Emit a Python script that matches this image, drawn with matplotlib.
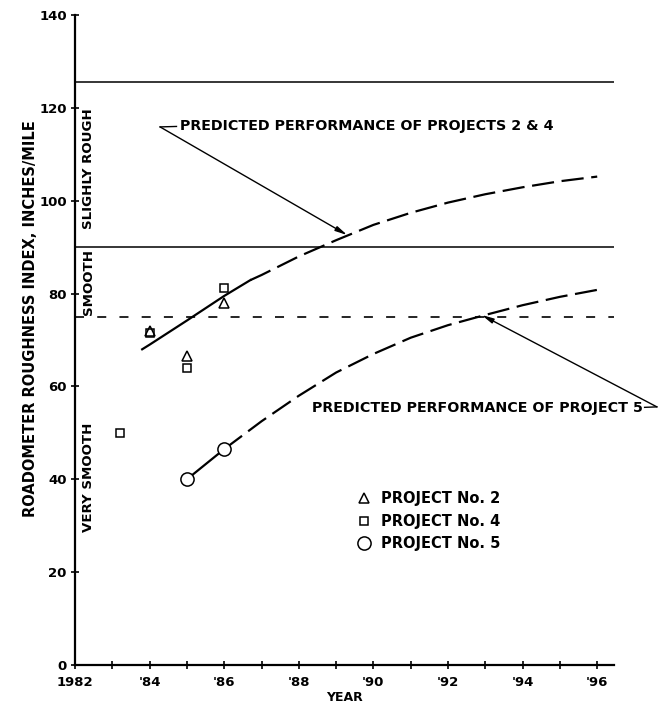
import matplotlib
matplotlib.use('Agg')
import matplotlib.pyplot as plt
from matplotlib.lines import Line2D

plt.rcParams['font.family'] = 'DejaVu Sans'
plt.rcParams['font.weight'] = 'bold'
plt.rcParams['axes.labelweight'] = 'bold'
plt.rcParams['lines.scale_dashes'] = False

# measured roughness (inches/mile)
years_p2 = [1984, 1985, 1986]
rri_p2 = [72, 66.5, 78]
years_p4 = [1983.2, 1984, 1985, 1986]
rri_p4 = [50, 71.5, 64, 81.2]
years_p5 = [1985, 1986]
rri_p5 = [40, 46.5]

# predicted performance, projects 2 & 4
pred24_solid_years = [1983.8, 1984, 1985, 1986, 1986.7]
pred24_solid_rri = [68, 69, 74.2, 79.5, 82.9]
pred24_dash_years = [1986.7, 1987, 1988, 1989, 1990, 1991, 1992, 1993, 1994, 1995, 1996]
pred24_dash_rri = [82.9, 84, 88.0, 91.5, 94.8, 97.4, 99.6, 101.4, 102.9, 104.2, 105.2]

# predicted performance, project 5
pred5_solid_years = [1985, 1986]
pred5_solid_rri = [40, 46.5]
pred5_dash_years = [1986, 1987, 1988, 1989, 1990, 1991, 1992, 1993, 1994, 1995, 1996]
pred5_dash_rri = [46.5, 52.5, 58, 63, 67, 70.5, 73.2, 75.4, 77.5, 79.3, 80.8]

# ride-quality boundaries
very_smooth_limit = 75
smooth_limit = 90
slightly_rough_limit = 125.5

x_ticks = [1982, 1984, 1986, 1988, 1990, 1992, 1994, 1996]
x_tick_labels = ['1982', "'84", "'86", "'88", "'90", "'92", "'94", "'96"]
y_ticks = [0, 20, 40, 60, 80, 100, 120, 140]

fig = plt.figure(figsize=(6.61, 7.05), dpi=100)
ax = fig.add_axes([0.1135, 0.0567, 0.8154, 0.922])
ax.set_xlim(1982, 1996.45)
ax.set_ylim(0, 140)

for s in ['top', 'right']:
    ax.spines[s].set_visible(False)
for s in ['left', 'bottom']:
    ax.spines[s].set_linewidth(1.6)

ax.set_xticks(x_ticks)
ax.set_xticklabels(x_tick_labels)
ax.set_xticks(range(1983, 1997, 2), minor=True)
ax.set_yticks(y_ticks)
ax.tick_params(axis='both', which='both', direction='inout', length=6, width=1.2,
               labelsize=9.5)
ax.tick_params(axis='x', pad=5)
ax.tick_params(axis='y', pad=3)

# boundary lines
ax.axhline(slightly_rough_limit, color='black', lw=1.1)
ax.axhline(smooth_limit, color='black', lw=1.1)
ax.axhline(very_smooth_limit, color='black', lw=1.2, dashes=(6.5, 9.5))

# zone labels along the y axis
zone_kw = dict(rotation=90, ha='center', va='center', fontsize=9.6)
ax.text(1982.35, 107, 'SLIGHLY ROUGH', **zone_kw)
ax.text(1982.35, 82.5, 'SMOOTH', **zone_kw)
ax.text(1982.35, 40.5, 'VERY SMOOTH', **zone_kw)

# predicted curves
ax.plot(pred24_solid_years, pred24_solid_rri, color='black', lw=1.6)
ax.plot(pred24_dash_years, pred24_dash_rri, color='black', lw=1.6, dashes=(16, 5.5))
ax.plot(pred5_solid_years, pred5_solid_rri, color='black', lw=1.6)
ax.plot(pred5_dash_years, pred5_dash_rri, color='black', lw=1.6, dashes=(16, 5.5))

# measured points
ax.plot(years_p2, rri_p2, ls='none', marker='^', ms=7, mfc='none', mec='black', mew=1.1, zorder=4)
ax.plot(years_p4, rri_p4, ls='none', marker='s', ms=5.5, mfc='none', mec='black', mew=1.1, zorder=4)
ax.plot(years_p5, rri_p5, ls='none', marker='o', ms=9.5, mfc='white', mec='black', mew=1.1, zorder=4)

# callout for projects 2 & 4
ax.plot([1984.28, 1984.72], [115.9, 116.0], color='black', lw=1)
ax.annotate('', xy=(1989.3, 92.6), xytext=(1984.28, 115.9),
            arrowprops=dict(arrowstyle='-|>,head_length=0.7,head_width=0.15',
                            color='black', lw=1, shrinkA=0, shrinkB=0))
ax.text(1984.82, 116, 'PREDICTED PERFORMANCE OF PROJECTS 2 & 4',
        ha='left', va='center', fontsize=10.3)

# callout for project 5
ax.text(1997.22, 55.4, 'PREDICTED PERFORMANCE OF PROJECT 5',
        ha='right', va='center', fontsize=10.3, clip_on=False)
ax.plot([1997.27, 1997.6], [55.5, 55.6], color='black', lw=1, clip_on=False)
ax.annotate('', xy=(1992.9, 75.4), xytext=(1997.6, 55.6), annotation_clip=False,
            arrowprops=dict(arrowstyle='-|>,head_length=0.7,head_width=0.15',
                            color='black', lw=1, shrinkA=0, shrinkB=0))

handles = [
    Line2D([], [], ls='none', marker='^', ms=7, mfc='none', mec='black', mew=1.1),
    Line2D([], [], ls='none', marker='s', ms=5.5, mfc='none', mec='black', mew=1.1),
    Line2D([], [], ls='none', marker='o', ms=9.5, mfc='none', mec='black', mew=1.1),
]
ax.legend(handles, ['PROJECT No. 2', 'PROJECT No. 4', 'PROJECT No. 5'],
          loc='upper left', bbox_to_anchor=(342 / 661, 1 - 478 / 705),
          bbox_transform=fig.transFigure, frameon=False, fontsize=10.5,
          handletextpad=0.6, labelspacing=0.52, handlelength=1.2)

ax.set_xlabel('YEAR', fontsize=9, labelpad=1)
ax.set_ylabel('ROADOMETER ROUGHNESS INDEX, INCHES/MILE', fontsize=10.5)
ax.yaxis.set_label_coords(-0.069, 0.533)

fig.savefig('out.png', dpi=100)
